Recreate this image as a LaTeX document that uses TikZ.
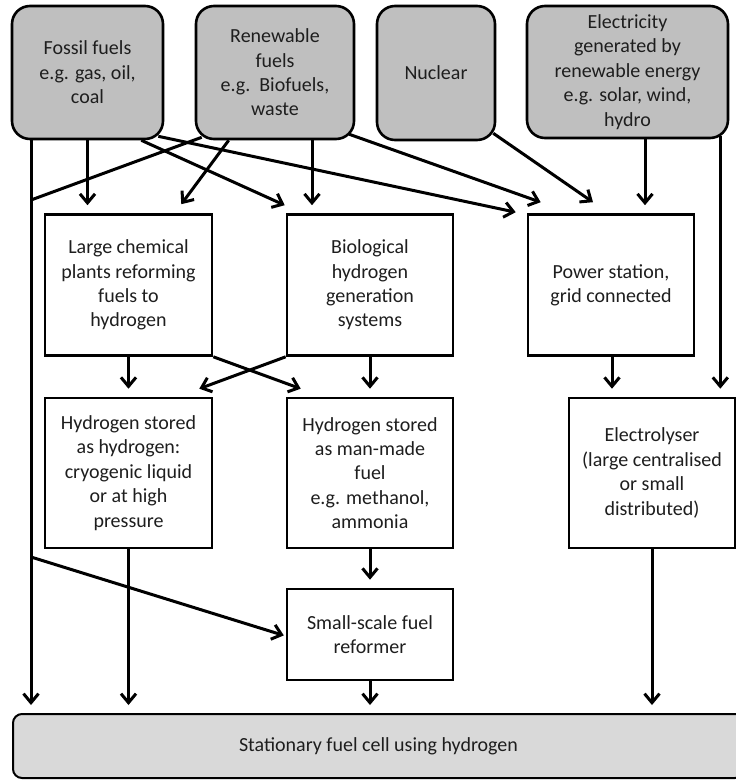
\documentclass[tikz,border=0pt]{standalone}
\usepackage{fontspec}
\setmainfont{Carlito}
\usetikzlibrary{arrows.meta,calc}
\definecolor{srcgray}{HTML}{BFBFBF}
\definecolor{cellgray}{HTML}{D9D9D9}
\definecolor{txt}{HTML}{1E1E1E}
\begin{document}
\begin{tikzpicture}[x=1pt,y=-1pt,
  every node/.style={font=\fontsize{20}{24.4}\selectfont, text=txt, align=center, inner sep=0pt},
  srcbox/.style={draw=black, line width=2.6pt, fill=srcgray, rounded corners=18pt},
  procbox/.style={draw=black, line width=2.6pt, fill=white},
  cellbox/.style={draw=black, line width=2pt, fill=cellgray, rounded corners=9pt},
  flow/.style={line width=3pt, -{Straight Barb[length=9pt,width=15pt]}, shorten >=8pt},
  plainline/.style={line width=3pt}]
\useasboundingbox (0,0) rectangle (736,780);
\clip (0,0) rectangle (736,780);
% sources
\node[srcbox, minimum width=151pt, minimum height=133pt] (fossil) at (87.5,72.5) {Fossil fuels\\e.g. gas, oil,\\coal};
\node[srcbox, minimum width=158pt, minimum height=133pt] (renew) at (275,72.5) {Renewable\\fuels\\e.g.\ \ Biofuels,\\waste};
\node[srcbox, minimum width=118pt, minimum height=134pt] (nuclear) at (436,73) {Nuclear};
\node[srcbox, minimum width=201pt, minimum height=132pt] (elec) at (627.5,72) {Electricity\\generated by\\renewable energy\\e.g. solar, wind,\\hydro};
% row 1
\node[procbox, minimum width=167pt, minimum height=141pt] (chem) at (128.5,285) {Large chemical\\plants reforming\\fuels to\\hydrogen};
\node[procbox, minimum width=166pt, minimum height=141pt] (bio) at (370,285) {Biological\\hydrogen\\generation\\systems};
\node[procbox, minimum width=166pt, minimum height=141pt] (power) at (611,285) {Power station,\\grid connected};
% row 2
\node[procbox, minimum width=167pt, minimum height=150pt] (htwo) at (128.5,473) {Hydrogen stored\\as hydrogen:\\cryogenic liquid\\or at high\\pressure};
\node[procbox, minimum width=166pt, minimum height=150pt] (fuel) at (370,473) {Hydrogen stored\\as man-made\\fuel\\e.g. methanol,\\ammonia};
\node[procbox, minimum width=166pt, minimum height=150pt] (electro) at (652,473) {Electrolyser\\(large centralised\\or small\\distributed)};
% row 3
\node[procbox, minimum width=166pt, minimum height=91pt] (small) at (370,634.5) {Small-scale fuel\\reformer};
\node[cellbox, minimum width=731pt, minimum height=64pt] (cell) at (378.5,746) {Stationary fuel cell using hydrogen};
% helper coordinates
\coordinate (jA) at (31,200);
\coordinate (jB) at (31,557);
\coordinate (rDown) at ($(renew.south)+(37,0)$);
\coordinate (eDown) at ($(elec.south)+(17.5,0)$);
\coordinate (eSide) at ($(elec.south east)+(-9,-3)$);
\coordinate (pDown) at ($(power.south)+(1,0)$);
% left trunk from fossil fuels
\draw[flow] (fossil.south -| jA) -- (cell.north -| jA);
% fossil fuels
\draw[flow] (fossil.south) -- (fossil.south |- chem.north);
\draw[flow, shorten >=0pt] ($(fossil.south east)+(-23,0)$) -- ($(bio.north west)+(-1,-8)$);
\draw[flow, shorten >=0pt] ($(fossil.south east)+(-6,-4)$) -- ($(power.north west)+(-11,-1)$);
% renewable fuels
\draw[plainline] ($(renew.south west)+(7,-3)$) -- (jA);
\draw[flow, shorten >=0pt] ($(renew.south west)+(34,0)$) -- ($(chem.north east)+(-32,-9)$);
\draw[flow] (rDown) -- (rDown |- bio.north);
\draw[flow, shorten >=0pt] ($(renew.south east)+(-6,-6)$) -- ($(power.north west)+(14,-11)$);
% nuclear
\draw[flow, shorten >=0pt] ($(nuclear.south east)+(-3,-8)$) -- ($(power.north)+(-18,-11)$);
% electricity
\draw[flow] (eDown) -- (eDown |- power.north);
\draw[flow] (eSide) -- (eSide |- electro.north);
% row 1 to row 2
\draw[flow] (chem.south) -- (htwo.north);
\draw[flow, shorten >=0pt] (chem.south east) -- ($(fuel.north west)+(15,-8)$);
\draw[flow, shorten >=0pt] (bio.south west) -- ($(htwo.north east)+(-14,-8)$);
\draw[flow] (bio.south) -- (fuel.north);
\draw[flow] (pDown) -- (pDown |- electro.north);
% row 2 downward
\draw[flow] (htwo.south) -- (htwo.south |- cell.north);
\draw[flow] (fuel.south) -- (small.north);
\draw[flow] (electro.south) -- (electro.south |- cell.north);
\draw[flow, shorten >=2pt] (jB) -- ($(small.west)+(0,1.5)$);
\draw[flow] (small.south) -- (small.south |- cell.north);
\end{tikzpicture}
\end{document}
